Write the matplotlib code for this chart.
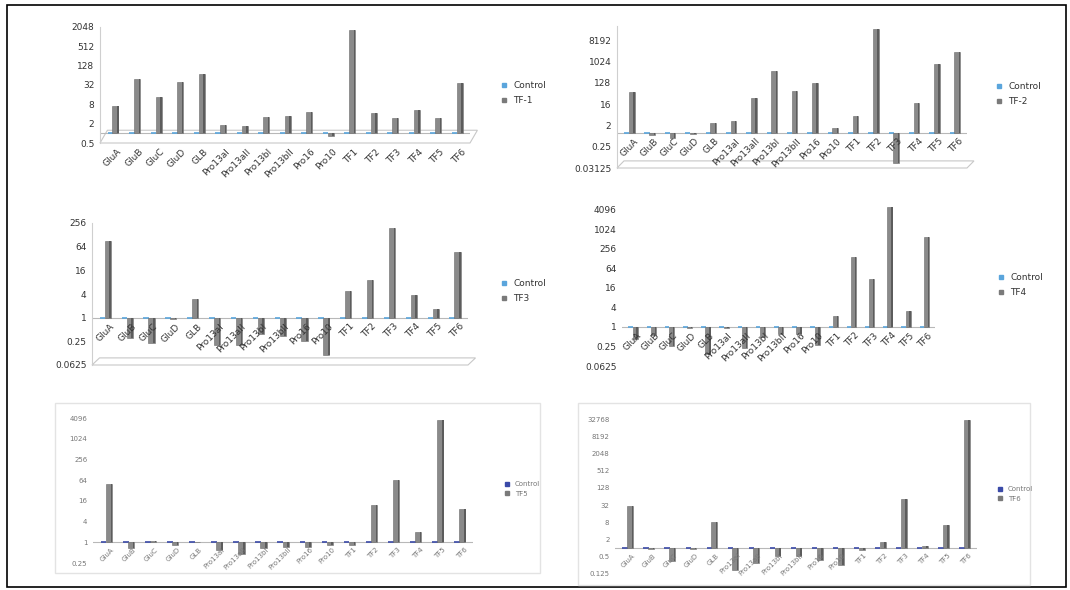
import matplotlib
matplotlib.use("Agg")
import matplotlib.pyplot as plt
from matplotlib.patches import Rectangle, Polygon
from matplotlib.ticker import FixedLocator, FixedFormatter
from matplotlib.lines import Line2D
import numpy as np

W, H = 1070, 590

genes = ["GluA", "GluB", "GluC", "GluD", "GLB", "Pro13aI", "Pro13aII", "Pro13bI",
         "Pro13bII", "Pro16", "Pro10", "TF1", "TF2", "TF3", "TF4", "TF5", "TF6"]
control = [1] * 17

tf1 = [7, 48, 14, 40, 70, 1.8, 1.7, 3.2, 3.5, 4.5, 0.8, 1600, 4.3, 3, 5.5, 3, 36]
tf2 = [50, 0.75, 0.6, 0.9, 2.5, 3.2, 29, 400, 55, 120, 1.5, 5.1, 25000, 0.05, 17, 800, 2700]
tf3 = [90, 0.3, 0.23, 0.95, 2.9, 0.2, 0.2, 0.39, 0.35, 0.25, 0.11, 4.9, 8.9, 190, 3.8, 1.7, 48]
tf4 = [0.42, 0.55, 0.25, 0.95, 0.15, 0.95, 0.22, 0.5, 0.62, 0.62, 0.27, 2.2, 140, 31, 4900, 3.2, 580]
tf5 = [50, 0.7, 1.1, 0.85, 1.05, 0.6, 0.45, 0.7, 0.72, 0.72, 0.85, 0.85, 12, 64, 2.0, 3500, 9]
tf6 = [30, 0.9, 0.36, 0.9, 8, 0.17, 0.3, 0.55, 0.55, 0.4, 0.25, 0.85, 1.6, 53, 1.2, 6.5, 30000]

series_names = ["TF-1", "TF-2", "TF3", "TF4", "TF5", "TF6"]
series = [tf1, tf2, tf3, tf4, tf5, tf6]

ticks1 = [0.5, 2, 8, 32, 128, 512, 2048]
ticks2 = [0.03125, 0.25, 2, 16, 128, 1024, 8192]
ticks3 = [0.0625, 0.25, 1, 4, 16, 64, 256]
ticks4 = [0.0625, 0.25, 1, 4, 16, 64, 256, 1024, 4096]
ticks5 = [0.25, 1, 4, 16, 64, 256, 1024, 4096]
ticks6 = [0.125, 0.5, 2, 8, 32, 128, 512, 2048, 8192, 32768]
tick_lists = [ticks1, ticks2, ticks3, ticks4, ticks5, ticks6]

# layout in pixels: left, right, top, bottom of plot area, ylim, legend x/y, floor depth
panels = [
    dict(box=(100, 470, 27, 143), ylim=(0.5, 2048), leg=(490, 93), lab_y=0.5, floor=0.11, top=True),
    dict(box=(617, 967, 26, 168), ylim=(0.03125, 32768), leg=(985, 94), lab_y=1, floor=0.05, top=True),
    dict(box=(92, 468, 223, 365), ylim=(0.0625, 256), leg=(490, 291), lab_y=1, floor=0.05, top=True),
    dict(box=(622, 935, 200, 366), ylim=(0.0625, 8192), leg=(987, 285), lab_y=1, floor=0, top=True),
    dict(box=(93, 473, 418, 563), ylim=(0.25, 4096), leg=(497, 489), lab_y=1, floor=0, top=False),
    dict(box=(615, 977, 419, 574), ylim=(0.125, 32768), leg=(990, 494), lab_y=1, floor=0, top=False),
]

fig = plt.figure(figsize=(W / 100, H / 100), dpi=100)
fig.patch.set_facecolor("white")

# outer border
fig.patches.append(Rectangle((7 / W, 1 - 587 / H), 1059 / W, 582 / H, transform=fig.transFigure,
                             fill=False, edgecolor="black", linewidth=1.2))
# chart frames of the two bottom charts
for (l, r, t, b) in [(55, 540, 403, 573), (578, 1030, 403, 585)]:
    fig.patches.append(Rectangle((l / W, 1 - b / H), (r - l) / W, (b - t) / H,
                                 transform=fig.transFigure, fill=False,
                                 edgecolor="#e3e3e3", linewidth=1))

x = np.arange(len(genes))
for p, vals, name, ticks in zip(panels, series, series_names, tick_lists):
    l, r, t, b = p["box"]
    ax = fig.add_axes([l / W, 1 - b / H, (r - l) / W, (b - t) / H])
    ax.set_yscale("log", base=2)
    ax.set_ylim(*p["ylim"])
    ax.set_xlim(-0.6, len(genes) - 0.4)

    ctrl_col = "#5aa5dc" if p["top"] else "#3a4aa8"
    fs = 6.5 if p["top"] else 5
    txt_col = "#333333" if p["top"] else "#777777"

    d = p["floor"]
    if d:
        ax.add_patch(Polygon([(0, 0), (1, 0), (1.02, d), (0.02, d)], closed=True,
                             transform=ax.transAxes, facecolor="white", edgecolor="#c8c8c8",
                             linewidth=0.8, clip_on=False, zorder=0))
    ax.axhline(1, color="#b8b8b8", linewidth=0.8, zorder=1)

    h = [v - 1 for v in vals]
    ax.bar(x - 0.12, [c - 1 for c in control], width=0.26, bottom=1,
           edgecolor=ctrl_col, color=ctrl_col, linewidth=1.2, zorder=2)
    ax.bar(x + 0.12, h, width=0.28, bottom=1, color="#8a8a8a",
           edgecolor="#6a6a6a", linewidth=0.4, zorder=3)
    ax.bar(x + 0.23, h, width=0.07, bottom=1, color="#5c5c5c", linewidth=0, zorder=4)

    ax.yaxis.set_major_locator(FixedLocator(ticks))
    ax.yaxis.set_major_formatter(FixedFormatter([f"{v:g}" for v in ticks]))
    ax.yaxis.set_minor_locator(FixedLocator([]))
    ax.tick_params(axis="y", length=0, labelsize=fs, colors=txt_col, pad=4)
    ax.set_xticks([])
    for s in ax.spines.values():
        s.set_visible(False)
    if d:
        ax.spines["left"].set_visible(True)
        ax.spines["left"].set_color("#cfcfcf")

    for i, g in enumerate(genes):
        ax.annotate(g, xy=(i + 0.2, p["lab_y"]), xytext=(0, -3), textcoords="offset points",
                    rotation=45, ha="right", va="top", rotation_mode="anchor",
                    fontsize=fs, color=txt_col, annotation_clip=False, zorder=5)

    handles = [Line2D([], [], marker="s", linestyle="none", color=ctrl_col, markersize=3.5),
               Line2D([], [], marker="s", linestyle="none", color="#7a7a7a", markersize=3.5)]
    lx, ly = p["leg"]
    fig.legend(handles, ["Control", name], loc="center left",
               bbox_to_anchor=(lx / W, 1 - ly / H), frameon=False, fontsize=fs,
               handletextpad=0.1, labelspacing=0.6 if p["top"] else 0.5, borderpad=0,
               labelcolor=txt_col)

fig.savefig("out.png", dpi=100, facecolor="white")
